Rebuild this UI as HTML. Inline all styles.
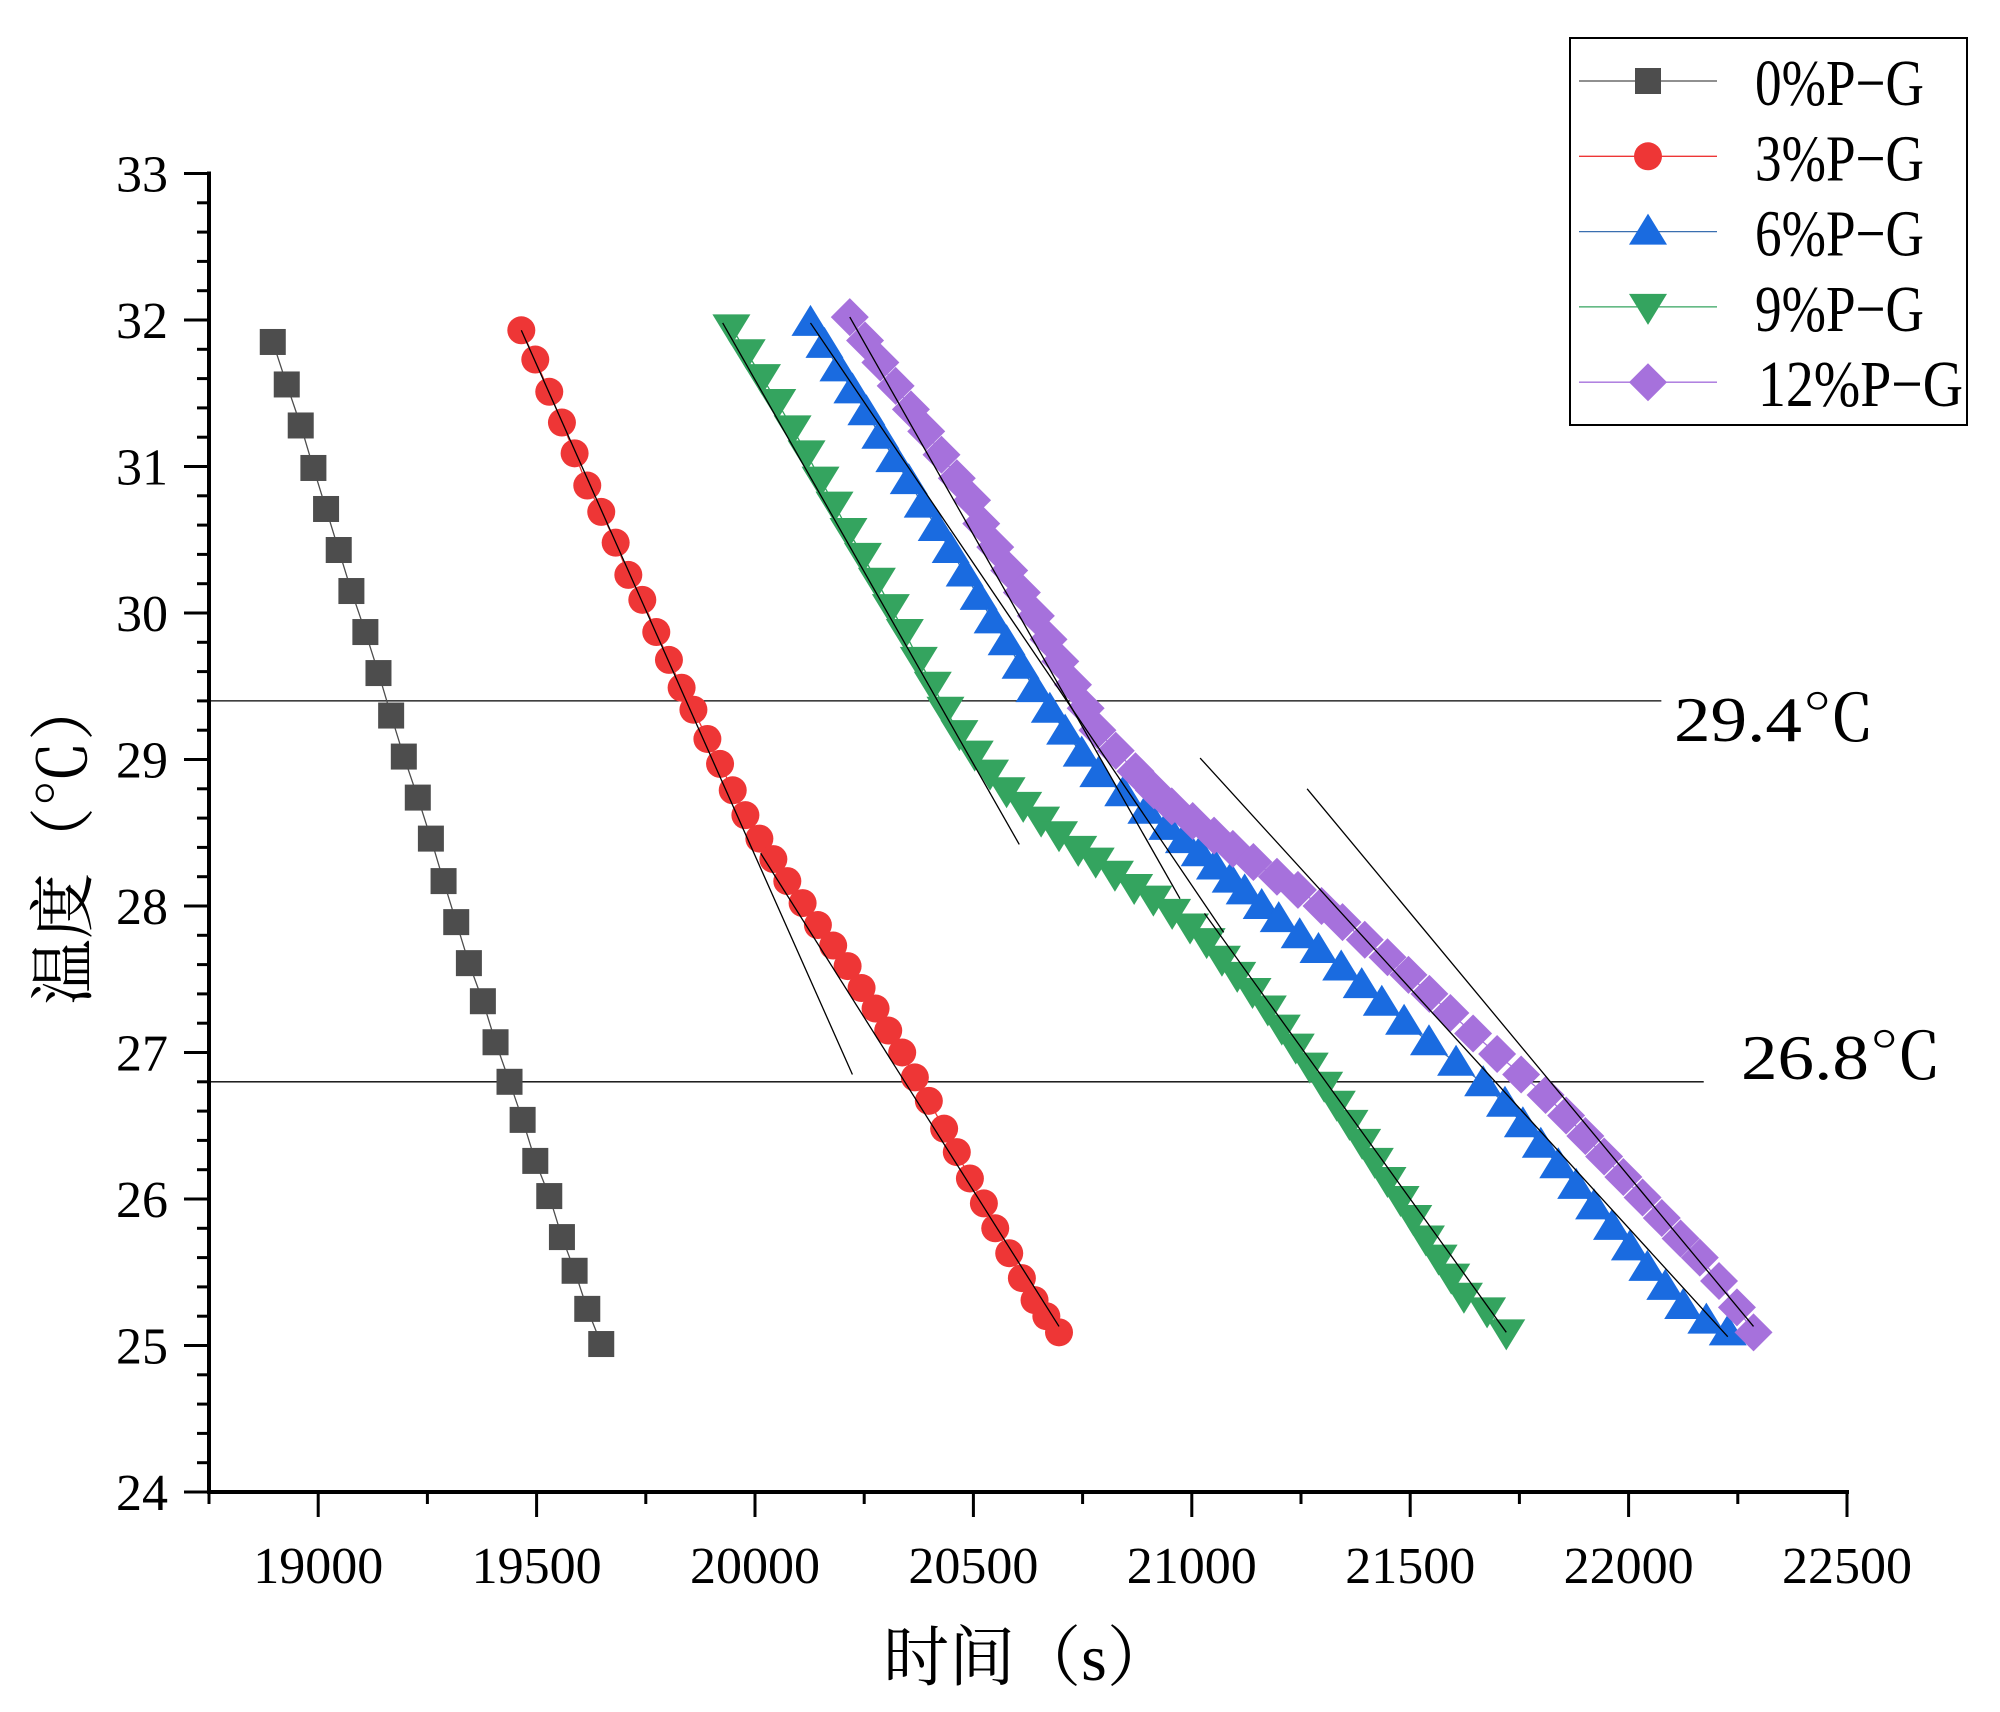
<!DOCTYPE html>
<html><head><meta charset="utf-8"><style>
html,body{margin:0;padding:0;background:#fff;}
svg{display:block;font-family:"Liberation Serif","Noto Serif CJK SC",serif;}
</style></head><body>
<svg id="chart" width="2000" height="1712" viewBox="0 0 2000 1712" xmlns="http://www.w3.org/2000/svg">
<g id="marks"></g>
<g id="axes"></g>
<g id="legend"></g>
</svg>
<script>
const xTicks=[19000,19500,20000,20500,21000,21500,22000,22500];
const yTicks=[24,25,26,27,28,29,30,31,32,33];
const seriesNames=["0%P−G","3%P−G","6%P−G","9%P−G","12%P−G"];
const t0=[18896,18928,18960,18989,19018,19047,19076,19108,19138,19167,19196,19228,19258,19287,19316,19345,19377,19406,19438,19468,19497,19529,19558,19587,19616,19648];
const T0=[31.85,31.56,31.28,30.99,30.71,30.43,30.15,29.87,29.59,29.30,29.02,28.74,28.46,28.17,27.89,27.61,27.35,27.07,26.80,26.54,26.26,26.02,25.74,25.51,25.25,25.01];
const t3=[19465,19497,19529,19558,19587,19616,19648,19681,19710,19742,19774,19803,19832,19859,19891,19920,19949,19978,20010,20042,20074,20109,20144,20179,20212,20244,20276,20305,20337,20366,20398,20433,20462,20492,20524,20550,20582,20611,20640,20667,20696];
const T3=[31.93,31.73,31.51,31.30,31.09,30.87,30.69,30.48,30.26,30.09,29.87,29.68,29.49,29.34,29.14,28.97,28.79,28.62,28.46,28.32,28.17,28.02,27.87,27.73,27.59,27.44,27.30,27.15,27.00,26.83,26.67,26.48,26.32,26.14,25.97,25.80,25.63,25.46,25.31,25.20,25.09];
const t6=[20127,20159,20191,20223,20255,20287,20319,20352,20384,20416,20448,20480,20512,20544,20576,20608,20640,20675,20710,20748,20786,20843,20896,20944,20982,21018,21053,21089,21121,21160,21199,21247,21290,21342,21389,21435,21486,21543,21605,21667,21717,21758,21799,21839,21880,21921,21962,22003,22043,22084,22125,22178,22227];
const T6=[31.98,31.83,31.67,31.52,31.37,31.21,31.05,30.90,30.74,30.58,30.43,30.27,30.11,29.95,29.80,29.64,29.48,29.34,29.19,29.04,28.90,28.77,28.65,28.54,28.45,28.36,28.27,28.18,28.10,28.00,27.91,27.80,27.70,27.58,27.46,27.34,27.21,27.07,26.93,26.79,26.65,26.51,26.37,26.23,26.09,25.95,25.81,25.67,25.53,25.40,25.27,25.17,25.09];
const t9=[19946,19981,20016,20051,20086,20118,20150,20182,20214,20247,20279,20311,20343,20375,20407,20436,20468,20503,20538,20576,20614,20655,20696,20740,20780,20824,20868,20912,20955,20996,21034,21069,21104,21139,21174,21206,21238,21270,21303,21332,21361,21390,21419,21448,21478,21507,21536,21565,21594,21623,21676,21720];
const T9=[31.95,31.78,31.61,31.44,31.26,31.09,30.91,30.74,30.56,30.39,30.22,30.04,29.87,29.68,29.51,29.34,29.18,29.04,28.91,28.79,28.69,28.59,28.49,28.39,28.31,28.22,28.13,28.05,27.96,27.86,27.76,27.64,27.53,27.42,27.30,27.17,27.04,26.91,26.78,26.65,26.52,26.39,26.26,26.13,26.00,25.87,25.73,25.60,25.47,25.34,25.24,25.09];
const t12=[20217,20252,20287,20322,20357,20392,20427,20462,20497,20518,20550,20582,20611,20643,20672,20699,20728,20757,20784,20826,20871,20913,20954,21002,21051,21094,21141,21195,21243,21297,21345,21396,21448,21496,21544,21592,21644,21699,21754,21810,21857,21901,21944,21988,22032,22076,22119,22163,22207,22248,22286];
const T12=[32.02,31.86,31.71,31.55,31.39,31.24,31.08,30.92,30.77,30.61,30.45,30.29,30.14,29.98,29.82,29.67,29.51,29.35,29.20,29.06,28.92,28.79,28.68,28.58,28.48,28.39,28.30,28.20,28.11,28.00,27.89,27.77,27.65,27.53,27.40,27.27,27.13,26.99,26.85,26.71,26.57,26.43,26.29,26.15,26.01,25.87,25.73,25.60,25.44,25.26,25.09];
const fitT1=[19465,20013,19926,21029,20127,21019,20217,21264];
const fitV1=[31.93,28.36,31.98,27.95,31.98,29.01,32.02,28.80];
const fitT2=[20223,20696,20605,21720,21073,22227,20973,22286];
const fitV2=[26.85,25.13,28.42,25.09,27.82,25.06,28.05,25.13];
const refTemps=[29.4,26.8];
const refEnd=[22075,22172];
const refLabels=["29.4℃","26.8℃"];

const NS="http://www.w3.org/2000/svg";
const X0=18750,X1=22500,PX0=209,PX1=1847;
const Y0=24,Y1=33,PY0=1492,PY1=173.5;
const sx=v=>PX0+(v-X0)/(X1-X0)*(PX1-PX0);
const sy=v=>PY0-(v-Y0)/(Y1-Y0)*(PY0-PY1);
function mk(tag,attrs,parent){const e=document.createElementNS(NS,tag);for(const k in attrs)e.setAttribute(k,attrs[k]);parent.appendChild(e);return e;}
const marks=document.getElementById('marks'),axes=document.getElementById('axes'),legend=document.getElementById('legend');
const colors=["#4d4d4d","#ee3636","#1a6be0","#34a45f","#a671dc"];
const lineCols=["#4d4d4d","#ee3636","#3a6fb0","#34a45f","#a671dc"];
function marker(type,cx,cy,col,parent){
  let e;
  if(type===0){e=mk('rect',{x:cx-13,y:cy-13,width:26,height:26,fill:col},parent);}
  else if(type===1){e=mk('circle',{cx:cx,cy:cy,r:14,fill:col},parent);}
  else if(type===2){e=mk('polygon',{points:`${cx},${cy-18} ${cx+19},${cy+13} ${cx-19},${cy+13}`,fill:col},parent);}
  else if(type===3){e=mk('polygon',{points:`${cx},${cy+18} ${cx+19},${cy-13} ${cx-19},${cy-13}`,fill:col},parent);}
  else {e=mk('polygon',{points:`${cx},${cy-19} ${cx+19},${cy} ${cx},${cy+19} ${cx-19},${cy}`,fill:col},parent);}
  return e;
}
const labX=[1674,1741],labDy=[40,-3];
for(let i=0;i<refTemps.length;i++){
  const l=mk('line',{x1:sx(X0),x2:sx(refEnd[i]),y1:sy(refTemps[i]),y2:sy(refTemps[i]),stroke:'#000','stroke-width':1.3},marks);
  
  
  const tx=mk('text',{x:labX[i],y:sy(refTemps[i])+labDy[i],'font-size':64,fill:'#000',textLength:201,lengthAdjust:'spacingAndGlyphs'},marks);
  tx.textContent=refLabels[i];
  
  
}
const allT=[t0,t3,t6,t9,t12],allV=[T0,T3,T6,T9,T12];
for(let s=0;s<5;s++){
  const g=mk('g',{},marks);
  
  
  const pts=allT[s].map((t,i)=>sx(t)+','+sy(allV[s][i])).join(' ');
  mk('polyline',{points:pts,fill:'none',stroke:lineCols[s],'stroke-width':1.3},g);
  for(let i=0;i<allT[s].length;i++){
    const m=marker(s,sx(allT[s][i]),sy(allV[s][i]),colors[s],g);
    
    
  }
}
for(let i=0;i<fitT1.length;i++){
  const l=mk('line',{x1:sx(fitT1[i]),y1:sy(fitV1[i]),x2:sx(fitT2[i]),y2:sy(fitV2[i]),stroke:'#000','stroke-width':1.3},marks);
  
  
}
mk('line',{x1:PX0,x2:PX0,y1:PY1-2,y2:PY0+2,stroke:'#000','stroke-width':4},axes);
mk('line',{x1:PX0-2,x2:PX1+2,y1:PY0,y2:PY0,stroke:'#000','stroke-width':4},axes);
for(let v=X0;v<=X1;v+=250){
  const major=xTicks.includes(v);
  mk('line',{x1:sx(v),x2:sx(v),y1:PY0,y2:PY0+(major?25:12),stroke:'#000','stroke-width':3},axes);
}
xTicks.forEach(v=>{
  const t=mk('text',{x:sx(v),y:1583,'font-size':52,'text-anchor':'middle'},axes);
  t.textContent=v;
  
  
});
for(let v=Y0;v<=Y1+1e-6;v+=0.2){
  const major=Math.abs(v-Math.round(v))<1e-6;
  mk('line',{x1:PX0,x2:PX0-(major?25:12),y1:sy(v),y2:sy(v),stroke:'#000','stroke-width':3},axes);
}
yTicks.forEach(v=>{
  const t=mk('text',{x:168,y:sy(v)+18,'font-size':52,'text-anchor':'end'},axes);
  t.textContent=v;
  
  
});
const xt=mk('text',{x:1028,y:1680,'font-size':66,'text-anchor':'middle'},axes);
xt.textContent="时间（s）";


const yt=mk('text',{x:0,y:0,'font-size':66,'text-anchor':'middle',transform:'translate(86,840) rotate(-90)'},axes);
yt.textContent="温度（℃）";


mk('rect',{x:1570,y:38,width:397,height:387,fill:'#fff',stroke:'#000','stroke-width':2},legend);
const legW=[169,169,169,169,205];
for(let s=0;s<5;s++){
  const yy=81+s*75.3;
  const g=mk('g',{},legend);
  
  
  mk('line',{x1:1579,x2:1717,y1:yy,y2:yy,stroke:lineCols[s],'stroke-width':1.3},g);
  marker(s,1648,yy,colors[s],g);
  const t=mk('text',{x:s===4?1758:1755,y:yy+24,'font-size':66,textLength:legW[s],lengthAdjust:'spacingAndGlyphs'},g);
  t.textContent=seriesNames[s];
}
</script>
</body></html>
